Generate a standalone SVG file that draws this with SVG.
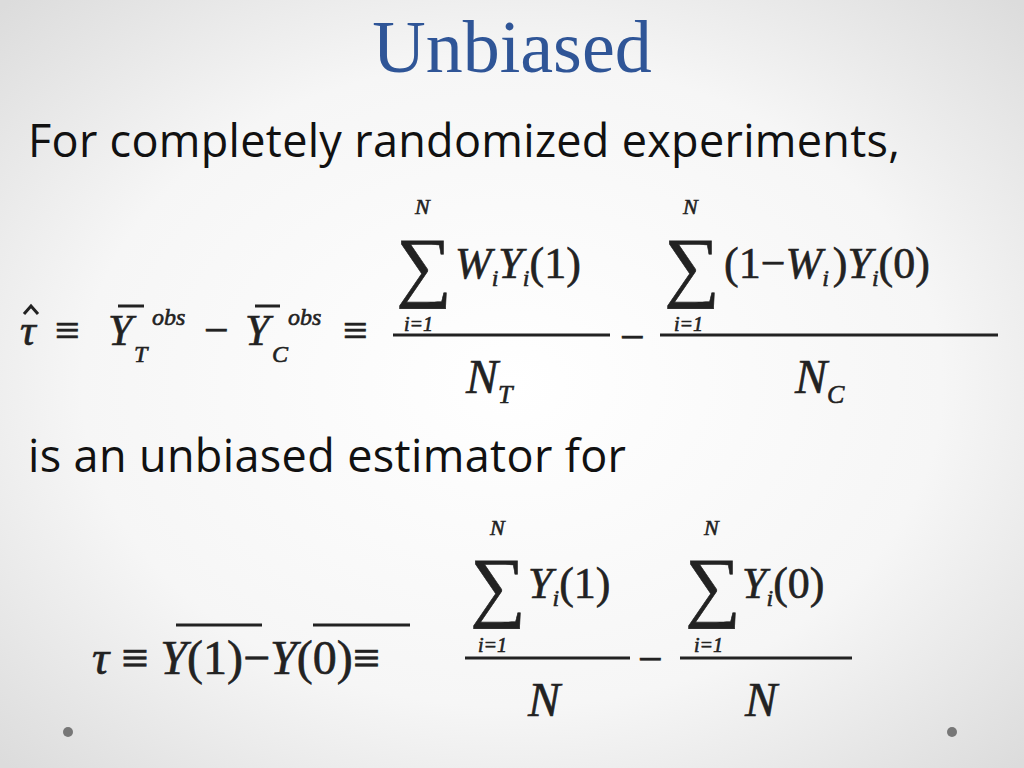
<svg xmlns="http://www.w3.org/2000/svg" width="1024" height="768" viewBox="0 0 1024 768">
<defs>
<radialGradient id="bg" cx="50%" cy="50%" r="70%">
<stop offset="0" stop-color="#ffffff"/><stop offset="0.6" stop-color="#f6f6f6"/><stop offset="1" stop-color="#dcdcdc"/>
</radialGradient>
<style>
.m{font-family:"Liberation Serif",serif;fill:#222;stroke:#222;stroke-width:0.6;}
.i{font-style:italic;}
.b{font-family:"Open Sans","Noto Sans",sans-serif;font-size:45px;fill:#111;}
.l{stroke:#222;stroke-width:3;}
</style>
</defs>
<rect width="1024" height="768" fill="url(#bg)"/>
<text x="512" y="72" text-anchor="middle" font-family="Liberation Serif,serif" font-size="74" fill="#2F5597">Unbiased</text>
<text class="b" x="28" y="157" textLength="872">For completely randomized experiments,</text>
<text class="b" x="28" y="472" textLength="598">is an unbiased estimator for</text>
<g id="formula1">
<text class="m i" x="20" y="345" font-size="44">τ</text>
<polyline points="24,314 31,306 38,314" fill="none" stroke="#222" stroke-width="3"/>
<text class="m" x="55" y="345" font-size="44">≡</text>
<text class="m i" x="108" y="345" font-size="44">Y</text>
<line class="l" x1="118" y1="306" x2="144" y2="306"/>
<text class="m i" x="134" y="362" font-size="24">T</text>
<text class="m i" x="152" y="325" font-size="24">obs</text>
<text class="m" x="204" y="345" font-size="44">−</text>
<text class="m i" x="245" y="345" font-size="44">Y</text>
<line class="l" x1="255" y1="306" x2="280" y2="306"/>
<text class="m i" x="272" y="362" font-size="24">C</text>
<text class="m i" x="288" y="325" font-size="24">obs</text>
<text class="m" x="343" y="345" font-size="44">≡</text>
<text class="m i" x="415" y="214" font-size="22">N</text>
<text class="m" x="396" y="292" font-size="78">∑</text>
<text class="m i" x="404" y="331" font-size="20">i=1</text>
<text class="m" x="455" y="278" font-size="44"><tspan class="i">W</tspan><tspan class="i" font-size="24" dy="8">i</tspan><tspan class="i" dy="-8">Y</tspan><tspan class="i" font-size="24" dy="8">i</tspan><tspan dy="-8">(1)</tspan></text>
<line class="l" x1="393" y1="335" x2="610" y2="335"/>
<text class="m" x="620" y="352" font-size="44">−</text>
<text class="m i" x="683" y="214" font-size="22">N</text>
<text class="m" x="664" y="292" font-size="78">∑</text>
<text class="m i" x="674" y="331" font-size="20">i=1</text>
<text class="m" x="724" y="278" font-size="44">(1−<tspan class="i">W</tspan><tspan class="i" font-size="24" dy="8">i</tspan><tspan dx="4" dy="-8">)</tspan><tspan class="i">Y</tspan><tspan class="i" font-size="24" dy="8">i</tspan><tspan dy="-8">(0)</tspan></text>
<line class="l" x1="660" y1="335" x2="998" y2="335"/>
<text class="m i" x="466" y="393" font-size="48">N<tspan font-size="26" dy="10">T</tspan></text>
<text class="m i" x="795" y="393" font-size="48">N<tspan font-size="26" dy="10">C</tspan></text>
</g>
<g id="formula2">
<text class="m" x="92" y="674" font-size="48"><tspan class="i">τ</tspan> ≡ <tspan class="i">Y</tspan>(1)−<tspan class="i">Y</tspan>(0)≡</text>
<line class="l" x1="176" y1="625" x2="262" y2="625"/>
<line class="l" x1="313" y1="625" x2="410" y2="625"/>
<text class="m i" x="490" y="535" font-size="22">N</text>
<text class="m" x="470" y="612" font-size="78">∑</text>
<text class="m i" x="478" y="652" font-size="20">i=1</text>
<text class="m" x="528" y="598" font-size="44"><tspan class="i">Y</tspan><tspan class="i" font-size="24" dy="8">i</tspan><tspan dy="-8">(1)</tspan></text>
<line class="l" x1="465" y1="658" x2="630" y2="658"/>
<text class="m" x="638" y="674" font-size="44">−</text>
<text class="m i" x="704" y="535" font-size="22">N</text>
<text class="m" x="685" y="612" font-size="78">∑</text>
<text class="m i" x="694" y="652" font-size="20">i=1</text>
<text class="m" x="742" y="598" font-size="44"><tspan class="i">Y</tspan><tspan class="i" font-size="24" dy="8">i</tspan><tspan dy="-8">(0)</tspan></text>
<line class="l" x1="680" y1="658" x2="852" y2="658"/>
<text class="m i" x="528" y="716" font-size="48">N</text>
<text class="m i" x="745" y="716" font-size="48">N</text>
</g>
<circle cx="68" cy="732" r="5" fill="#777"/>
<circle cx="952" cy="732" r="5" fill="#777"/>
</svg>
